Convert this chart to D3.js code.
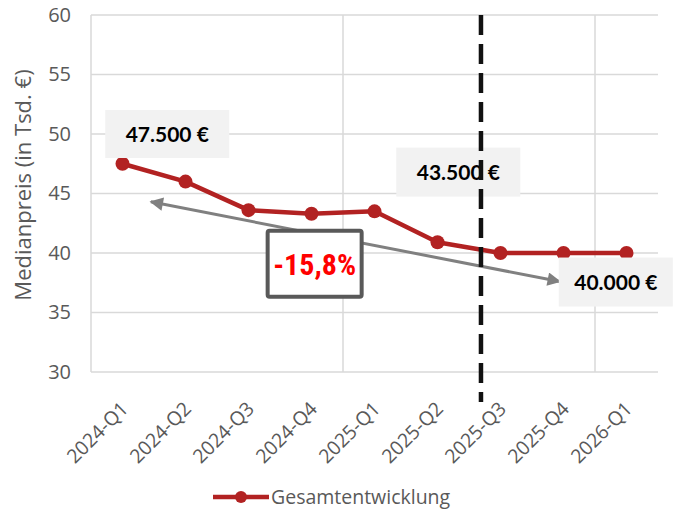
<!DOCTYPE html>
<html>
<head>
<meta charset="utf-8">
<script src="https://cdn.jsdelivr.net/npm/d3@7"></script>
<style>
  body { margin: 0; background: #fff; }
  svg { display: block; }
</style>
</head>
<body>
<script>
// data
var quarters = ["2024-Q1","2024-Q2","2024-Q3","2024-Q4","2025-Q1","2025-Q2","2025-Q3","2025-Q4","2026-Q1"];
var medianPrice = [47.5, 46.0, 43.6, 43.3, 43.5, 40.9, 40.0, 40.0, 40.0];
var yTicks = [30, 35, 40, 45, 50, 55, 60];
var seriesName = "Gesamtentwicklung";
var yTitle = "Medianpreis (in Tsd. €)";

// annotations, positioned in data units (category index, value)
var callouts = [
  {text: "47.500 €", i: 0.71, v: 50.0, w: 124, h: 48},
  {text: "43.500 €", i: 5.33, v: 46.8, w: 124, h: 49},
  {text: "40.000 €", i: 7.83, v: 37.56, w: 114, h: 49}
];
var trendArrow = {from: {i: 6.94, v: 37.6}, to: {i: 0.45, v: 44.3}};
var changeBox = {text: "-15,8%", i: 3.05, v: 39.1, w: 94, h: 66};
var splitAt = 5.69;

var width = 673, height = 511;
var margin = {top: 15, left: 91, right: 15, bottom: 139};

var svg = d3.select("body").append("svg")
    .attr("width", width)
    .attr("height", height);

var xScale = d3.scaleBand()
    .domain(quarters)
    .range([margin.left, width - margin.right]);

// continuous x for annotations
var xIdx = d3.scaleLinear()
    .domain([-0.5, quarters.length - 0.5])
    .range([margin.left, width - margin.right]);

var yScale = d3.scaleLinear()
    .domain([30, 60])
    .range([height - margin.bottom, margin.top]);

var gridColor = "#d9d9d9";
var textColor = "#595959";
var font = "'Open Sans', sans-serif";

// horizontal grid
svg.append("g").selectAll("line")
    .data(yTicks)
    .join("line")
    .attr("x1", margin.left).attr("x2", width - margin.right)
    .attr("y1", d => yScale(d)).attr("y2", d => yScale(d))
    .attr("stroke", gridColor).attr("stroke-width", 1.5);

// vertical grid every 4 categories
svg.append("g").selectAll("line")
    .data([-0.5, 3.5, 7.5])
    .join("line")
    .attr("x1", d => xIdx(d)).attr("x2", d => xIdx(d))
    .attr("y1", yScale(30)).attr("y2", yScale(60))
    .attr("stroke", gridColor).attr("stroke-width", 1.5);

// y axis labels
var yAxis = svg.append("g")
    .attr("transform", `translate(${margin.left},0)`)
    .call(d3.axisLeft(yScale).tickValues(yTicks).tickSize(0).tickPadding(20));
yAxis.select(".domain").remove();
yAxis.selectAll("text")
    .style("font-family", font)
    .style("font-size", "20px")
    .attr("fill", textColor);

// x axis labels
var xAxis = svg.append("g")
    .attr("transform", `translate(0,${height - margin.bottom})`)
    .call(d3.axisBottom(xScale).tickSize(0).tickPadding(0));
xAxis.select(".domain").remove();
xAxis.selectAll("text")
    .style("font-family", font)
    .style("font-size", "19.5px")
    .attr("fill", textColor)
    .attr("text-anchor", "end")
    .attr("dy", "0")
    .attr("transform", "translate(7,38) rotate(-45)");

// y title
svg.append("text")
    .attr("transform", `translate(31,185) rotate(-90)`)
    .attr("text-anchor", "middle")
    .style("font-family", font)
    .style("font-size", "22px")
    .attr("fill", textColor)
    .text(yTitle);

// series line
var red = "#b22222";
var line = d3.line()
    .x((d, i) => xScale(quarters[i]) + xScale.bandwidth() / 2)
    .y(d => yScale(d));

svg.append("path")
    .datum(medianPrice)
    .attr("fill", "none")
    .attr("stroke", red)
    .attr("stroke-width", 4.5)
    .attr("stroke-linejoin", "round")
    .attr("d", line);

svg.append("g").selectAll("circle")
    .data(medianPrice)
    .join("circle")
    .attr("cx", (d, i) => xScale(quarters[i]) + xScale.bandwidth() / 2)
    .attr("cy", d => yScale(d))
    .attr("r", 7)
    .attr("fill", red);

// trend arrow (double headed)
var defs = svg.append("defs");
defs.append("marker")
    .attr("id", "head")
    .attr("viewBox", "0 0 10 10")
    .attr("refX", 9).attr("refY", 5)
    .attr("markerWidth", 5).attr("markerHeight", 4.5)
    .attr("orient", "auto-start-reverse")
    .append("path")
    .attr("d", "M0,0 L10,5 L0,10 z")
    .attr("fill", "#808080");

var a1 = [xIdx(trendArrow.from.i), yScale(trendArrow.from.v)];
var a2 = [xIdx(trendArrow.to.i), yScale(trendArrow.to.v)];
svg.append("line")
    .attr("x1", a1[0]).attr("y1", a1[1])
    .attr("x2", a2[0]).attr("y2", a2[1])
    .attr("stroke", "#808080")
    .attr("stroke-width", 3)
    .attr("marker-start", "url(#head)")
    .attr("marker-end", "url(#head)");

// value callouts
var cg = svg.append("g").selectAll("g")
    .data(callouts)
    .join("g")
    .attr("transform", d => `translate(${xIdx(d.i)},${yScale(d.v)})`);
cg.append("rect")
    .attr("x", d => -d.w / 2).attr("y", d => -d.h / 2)
    .attr("width", d => d.w).attr("height", d => d.h)
    .attr("fill", "#f2f2f2");
cg.append("text")
    .attr("text-anchor", "middle")
    .attr("dy", "0.36em")
    .style("font-family", "Lato, 'Open Sans', sans-serif")
    .style("font-weight", "bold")
    .style("font-size", "21px")
    .attr("fill", "#000")
    .text(d => d.text);

// split line, drawn over the 43.500 box like the reference
svg.append("line")
    .attr("x1", xIdx(splitAt)).attr("x2", xIdx(splitAt))
    .attr("y1", yScale(60)).attr("y2", yScale(30) + 30)
    .attr("stroke", "#111")
    .attr("stroke-width", 4.5)
    .attr("stroke-dasharray", "20,9");

// change box
var bx = xIdx(changeBox.i), by = yScale(changeBox.v);
svg.append("rect")
    .attr("x", bx - changeBox.w / 2).attr("y", by - changeBox.h / 2)
    .attr("width", changeBox.w).attr("height", changeBox.h)
    .attr("rx", 2)
    .attr("fill", "#fff")
    .attr("stroke", "#595959")
    .attr("stroke-width", 4);
svg.append("text")
    .attr("x", bx).attr("y", by)
    .attr("dy", "0.36em")
    .attr("text-anchor", "middle")
    .style("font-family", "'Liberation Sans Narrow', 'Roboto Condensed', sans-serif")
    .style("font-weight", "bold")
    .style("font-size", "30px")
    .attr("fill", "#ff0000")
    .text(changeBox.text);

// legend
var lg = svg.append("g").attr("transform", "translate(213,497)");
lg.append("line")
    .attr("x1", 0).attr("x2", 56)
    .attr("stroke", red).attr("stroke-width", 4.5);
lg.append("circle")
    .attr("cx", 28).attr("r", 6)
    .attr("fill", red);
lg.append("text")
    .attr("x", 58).attr("dy", "0.35em")
    .style("font-family", font)
    .style("font-size", "19.5px")
    .attr("fill", textColor)
    .text(seriesName);
</script>
</body>
</html>
